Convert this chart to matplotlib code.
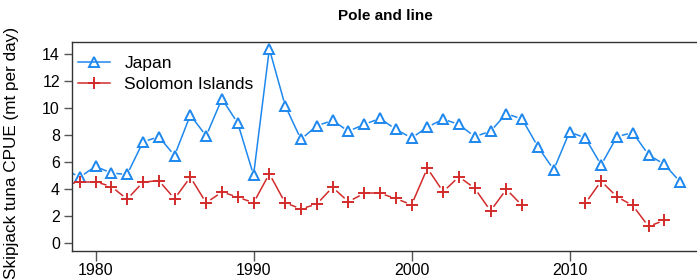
import numpy as np
import matplotlib.pyplot as plt

plt.rcParams['font.family'] = ['Liberation Sans', 'DejaVu Sans']

# CPUE pole and line, mt per day
years = np.arange(1978, 2018)
japan = [5.5, 4.9, 5.7, 5.2, 5.1, 7.5, 7.9, 6.5, 9.5, 7.95, 10.7, 8.9, 5.05, 14.4,
         10.2, 7.7, 8.7, 9.1, 8.3, 8.8, 9.25, 8.45, 7.8, 8.6, 9.2, 8.8, 7.9, 8.3,
         9.6, 9.2, 7.15, 5.45, 8.25, 7.8, 5.8, 7.9, 8.2, 6.55, 5.85, 4.55]
solomon = [4.3, 4.56, 4.56, 4.2, 3.27, 4.52, 4.65, 3.3, 4.9, 3.0, 3.8, 3.42, 3.0, 5.15,
           3.0, 2.55, 2.9, 4.15, 3.08, 3.7, 3.7, 3.32, 2.85, 5.56, 3.82, 4.93, 4.07, 2.4,
           4.0, 2.8, np.nan, np.nan, np.nan, 2.96, 4.6, 3.45, 2.8, 1.25, 1.7, np.nan]
japan = np.array(japan)
solomon = np.array(solomon)

blue = '#1E88EE'
red = '#D22B2B'

fig = plt.figure(figsize=(6.97, 2.79), dpi=100)
ax = fig.add_axes([0.1040, 0.1004, 0.8990, 0.7491])
ax.set_xlim(1978.54, 2018.2)
ax.set_ylim(-0.57, 14.91)


def gapped(x, y, color, gap=5.0):
    # R style type="b": segments stop short of the points
    pts = ax.transData.transform(np.column_stack([x, y]))
    inv = ax.transData.inverted()
    for i in range(len(x) - 1):
        p0, p1 = pts[i], pts[i + 1]
        if not (np.all(np.isfinite(p0)) and np.all(np.isfinite(p1))):
            continue
        d = p1 - p0
        L = np.hypot(d[0], d[1])
        if L <= 2 * gap:
            continue
        a = inv.transform(p0 + d / L * gap)
        b = inv.transform(p1 - d / L * gap)
        ax.plot([a[0], b[0]], [a[1], b[1]], color=color, lw=1.1, solid_capstyle='butt')


gapped(years, japan, blue)
gapped(years, solomon, red)
ax.plot(years, japan, ls='none', marker='^', ms=6.5, mfc='none', mec=blue, mew=1.4)
ax.plot(years, solomon, ls='none', marker='+', ms=8, mec=red, mew=1.4)

# legend handles
ax.plot([], [], color=blue, lw=1.1, marker='^', ms=6.5, mfc='none', mec=blue, mew=1.4, label='Japan')
ax.plot([], [], color=red, lw=1.1, marker='+', ms=8, mew=1.4, label='Solomon Islands')
ax.legend(loc='upper left', frameon=False, fontsize=12.5, handlelength=1.85,
          borderaxespad=0.0, labelspacing=0.32, handletextpad=0.85, bbox_to_anchor=(-0.003, 0.965))

ax.set_xticks([1980, 1990, 2000, 2010])
ax.set_yticks(np.arange(0, 15, 2))
ax.tick_params(axis='both', labelsize=11.5, color='#555555', width=1, length=6, pad=3)
ax.tick_params(axis='x', length=7, pad=1.5)
for s in ax.spines.values():
    s.set_color('#333333')
    s.set_linewidth(1)

ax.set_ylabel('Skipjack tuna CPUE (mt per day)', fontsize=12.3)
ax.yaxis.set_label_coords(-0.085, 0.471)
ax.set_title('Pole and line', fontsize=11, fontweight='bold', pad=16)

fig.savefig('out.png', dpi=100)
